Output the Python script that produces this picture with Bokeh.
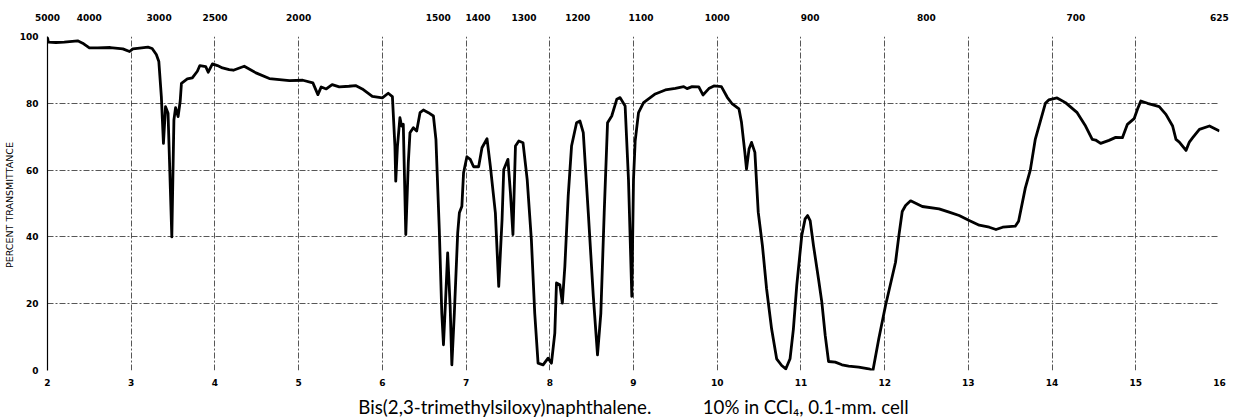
from bokeh.plotting import figure
from bokeh.models import LinearAxis, FixedTicker, CustomJSTickFormatter, Range1d
from bokeh.embed import file_html
from bokeh.resources import INLINE

# wavelength (microns) and percent transmittance
wavelength = [
    2.00, 2.01, 2.10, 2.20, 2.36, 2.42, 2.50, 2.60, 2.75, 2.90, 2.98, 3.02, 3.10, 3.20, 3.25,
    3.30, 3.33, 3.36, 3.385, 3.41, 3.44, 3.485, 3.51, 3.53, 3.56, 3.585, 3.60, 3.67, 3.73,
    3.79, 3.82, 3.89, 3.92, 3.97, 4.03, 4.09, 4.17, 4.22, 4.35, 4.49, 4.65, 4.77, 4.89,
    5.05, 5.17, 5.23, 5.27, 5.33, 5.40, 5.485, 5.60, 5.68, 5.76, 5.88, 6.00, 6.07, 6.12,
    6.15, 6.16, 6.18, 6.21, 6.23, 6.25, 6.28, 6.31, 6.33, 6.37, 6.41, 6.45, 6.49, 6.55,
    6.61, 6.64, 6.68, 6.71, 6.73, 6.75, 6.78, 6.81, 6.83, 6.86, 6.90, 6.92, 6.95, 6.97,
    7.01, 7.05, 7.09, 7.15, 7.19, 7.25, 7.29, 7.35, 7.39, 7.43, 7.45, 7.50, 7.53, 7.56,
    7.59, 7.63, 7.68, 7.73, 7.78, 7.82, 7.86, 7.92, 7.98, 8.02, 8.06, 8.08, 8.12, 8.15,
    8.18, 8.22, 8.26, 8.32, 8.36, 8.40, 8.46, 8.52, 8.57, 8.61, 8.65, 8.69, 8.74, 8.80,
    8.84, 8.90, 8.94, 8.98, 9.00, 9.02, 9.06, 9.12, 9.18, 9.26, 9.38, 9.50, 9.60, 9.64,
    9.70, 9.78, 9.83, 9.90, 9.96, 10.05, 10.12, 10.18, 10.26, 10.29, 10.33, 10.35, 10.38,
    10.41, 10.45, 10.49, 10.54, 10.59, 10.65, 10.71, 10.77, 10.82, 10.87, 10.91, 10.95,
    11.01, 11.05, 11.08, 11.11, 11.15, 11.21, 11.25, 11.29, 11.33, 11.41, 11.49, 11.57,
    11.69, 11.81, 11.86, 11.93, 12.01, 12.13, 12.17, 12.21, 12.25, 12.31, 12.45, 12.65,
    12.77, 12.89, 13.01, 13.13, 13.25, 13.33, 13.41, 13.56, 13.60, 13.68, 13.74, 13.80,
    13.92, 13.96, 14.06, 14.16, 14.30, 14.40, 14.48, 14.52, 14.58, 14.68, 14.76, 14.84,
    14.90, 14.98, 15.02, 15.06, 15.14, 15.28, 15.36, 15.44, 15.48, 15.52, 15.60, 15.64,
    15.68, 15.76, 15.88, 16.00,
]
transmittance = [
    99.7, 98.3, 98.2, 98.3, 98.7, 98.0, 96.6, 96.6, 96.7, 96.3, 95.5, 96.3, 96.5, 96.8, 96.4,
    94.6, 92.5, 82.0, 68.0, 79.0, 77.0, 40.0, 75.0, 78.7, 76.0, 80.6, 86.0, 87.3, 87.6,
    89.6, 91.3, 91.0, 89.3, 91.8, 91.3, 90.6, 90.1, 89.9, 91.1, 89.1, 87.4, 87.1, 86.8,
    86.9, 86.1, 82.6, 84.9, 84.3, 85.6, 84.9, 85.1, 85.3, 84.3, 82.1, 81.6, 83.0, 82.0,
    67.2, 56.7, 67.0, 75.7, 73.2, 73.7, 40.7, 62.2, 71.2, 72.7, 71.7, 77.2, 78.0, 77.2,
    76.2, 69.2, 42.2, 17.2, 7.7, 18.2, 35.2, 19.2, 1.7, 17.2, 41.2, 47.2, 49.2, 59.2,
    64.0, 63.2, 61.0, 61.0, 66.7, 69.4, 61.2, 47.2, 25.2, 45.2, 60.2, 63.2, 53.2, 40.7,
    67.2, 68.7, 68.2, 57.2, 39.2, 17.2, 2.2, 1.7, 3.7, 2.2, 11.2, 26.2, 25.7, 20.2,
    31.2, 52.2, 67.2, 74.2, 74.7, 71.2, 47.2, 22.2, 4.7, 17.2, 47.2, 74.2, 76.2, 81.2,
    81.7, 79.2, 57.2, 22.2, 57.2, 68.7, 77.2, 80.2, 81.3, 82.8, 84.0, 84.5, 85.0, 84.4,
    85.0, 84.9, 82.5, 84.4, 85.2, 85.0, 81.8, 79.8, 78.3, 74.3, 65.3, 60.3, 66.3,
    68.3, 65.3, 47.4, 37.4, 24.4, 12.4, 3.5, 1.5, 0.5, 3.5, 12.4, 25.4,
    40.4, 45.4, 46.4, 44.9, 37.4, 27.4, 20.4, 10.5, 2.7, 2.5, 1.7, 1.3,
    1.0, 0.5, 0.0, 9.5, 19.4, 32.4, 40.4, 47.6, 49.4, 50.8, 49.1, 48.4,
    47.4, 46.4, 44.9, 43.5, 42.9, 42.2, 42.9, 43.2, 44.7, 54.6, 60.0, 69.3,
    80.0, 81.0, 81.6, 80.2, 77.2, 73.2, 69.2, 69.0, 68.0, 68.9, 69.8, 69.7,
    73.7, 75.4, 78.2, 80.7, 80.0, 79.0, 76.7, 73.2, 69.2, 68.4, 65.9, 68.4,
    69.7, 72.2, 73.2, 71.7,
]

micron_ticks = list(range(2, 17))
percent_ticks = [0, 20, 40, 60, 80, 100]
wavenumber_labels = [5000, 4000, 3000, 2500, 2000, 1500, 1400, 1300, 1200, 1100, 1000, 900, 800, 700, 625]

TICK_FONT = "DejaVu Sans"
GRID = "#3a3a3a"

p = figure(frame_width=1172, frame_height=334, output_backend="svg", toolbar_location=None,
           x_range=Range1d(2, 16), y_range=Range1d(0, 100),
           min_border_left=37, min_border_top=36, min_border_right=14, min_border_bottom=45,
           x_axis_label="Bis(2,3-trimethylsiloxy)naphthalene.\u2003\u2003\u2003\u200210% in CCl\u2084, 0.1-mm. cell",
           y_axis_label="PERCENT  TRANSMITTANCE")
p.outline_line_color = None
p.background_fill_color = "white"
p.border_fill_color = "white"

# grids
p.xgrid.ticker = FixedTicker(ticks=micron_ticks)
p.ygrid.ticker = FixedTicker(ticks=percent_ticks)
for g in (p.xgrid, p.ygrid):
    g.grid_line_color = GRID
    g.grid_line_width = 1
    g.grid_line_dash = "6 2 2 2"
    g.grid_line_alpha = 0.85

# bottom axis
xa = p.xaxis[0]
xa.ticker = FixedTicker(ticks=micron_ticks)
xa.axis_line_color = None
xa.major_tick_line_color = None
xa.minor_tick_line_color = None
xa.major_label_standoff = 2
xa.major_label_text_font = TICK_FONT
xa.major_label_text_font_style = "bold"
xa.major_label_text_font_size = "9px"
xa.major_label_text_color = "black"
xa.axis_label_standoff = 7
xa.axis_label_text_font = "Lato"
xa.axis_label_text_font_style = "normal"
xa.axis_label_text_font_size = "18.7px"
xa.axis_label_text_color = "black"

# left axis
ya = p.yaxis[0]
ya.ticker = FixedTicker(ticks=percent_ticks)
ya.axis_line_color = "black"
ya.axis_line_width = 1.2
ya.major_tick_line_color = None
ya.minor_tick_line_color = None
ya.major_label_standoff = 3
ya.major_label_text_font = TICK_FONT
ya.major_label_text_font_style = "bold"
ya.major_label_text_font_size = "9px"
ya.major_label_text_color = "black"
ya.axis_label_standoff = 2
ya.axis_label_text_font = TICK_FONT
ya.axis_label_text_font_style = "normal"
ya.axis_label_text_font_size = "9.5px"
ya.axis_label_text_color = "black"

# top axis: wavenumbers (cm-1) placed at 10000/wn microns
top_ticks = [10000.0 / w for w in wavenumber_labels]
top = LinearAxis(
    ticker=FixedTicker(ticks=top_ticks),
    formatter=CustomJSTickFormatter(args=dict(labels=[str(w) for w in wavenumber_labels]),
                                    code="return labels[index];"),
    axis_line_color=None, major_tick_line_color=None, minor_tick_line_color=None,
    major_label_standoff=10, major_label_text_font=TICK_FONT,
    major_label_text_font_style="bold", major_label_text_font_size="9px",
    major_label_text_color="black")
p.add_layout(top, "above")

p.line(wavelength, transmittance, line_color="black", line_width=2.8, line_join="round")

open("out.html", "w").write(file_html(p, INLINE))
